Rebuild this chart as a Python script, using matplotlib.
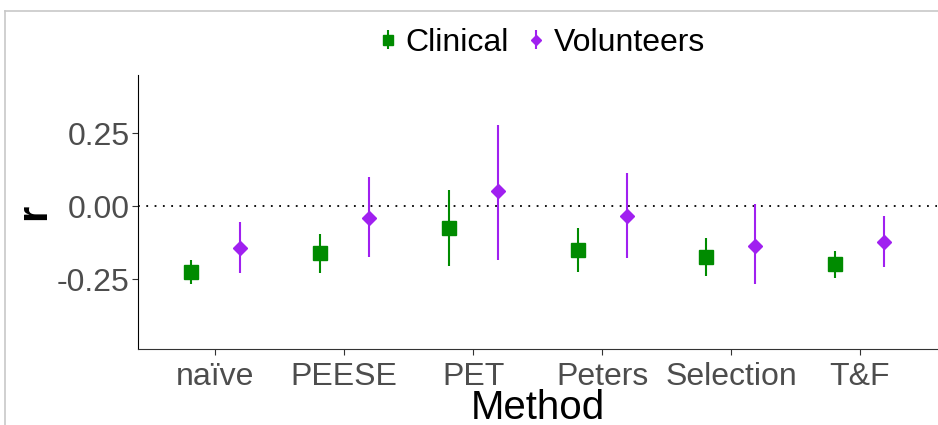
import matplotlib.pyplot as plt
import numpy as np
from matplotlib.lines import Line2D
from matplotlib.legend_handler import HandlerErrorbar

plt.rcParams['font.family'] = ['Liberation Sans', 'DejaVu Sans']

methods = ["naïve", "PEESE", "PET", "Peters", "Selection", "T&F"]

# Clinical: estimate, lower, upper
clin_est = [-0.225, -0.162, -0.075, -0.152, -0.175, -0.200]
clin_lo = [-0.267, -0.228, -0.205, -0.226, -0.239, -0.246]
clin_hi = [-0.183, -0.097, 0.057, -0.075, -0.108, -0.154]

# Volunteers
vol_est = [-0.145, -0.040, 0.051, -0.035, -0.135, -0.123]
vol_lo = [-0.228, -0.175, -0.183, -0.178, -0.267, -0.210]
vol_hi = [-0.055, 0.100, 0.280, 0.114, 0.006, -0.033]

green = "#008B00"
purple = "#A020F0"

fig = plt.figure(figsize=(9.38, 4.25), dpi=100)
ax = fig.add_axes([0.1471, 0.1788, 0.852, 0.6447])

x = np.arange(1, len(methods) + 1)
dodge = 0.19

ce = np.array(clin_est)
ve = np.array(vol_est)
h1 = ax.errorbar(x - dodge, ce, yerr=[ce - np.array(clin_lo), np.array(clin_hi) - ce],
                 fmt="s", color=green, ms=10, elinewidth=1.5, capsize=0, label="Clinical")
h2 = ax.errorbar(x + dodge, ve, yerr=[ve - np.array(vol_lo), np.array(vol_hi) - ve],
                 fmt="D", color=purple, ms=7, elinewidth=1.5, capsize=0, label="Volunteers")

ax.axhline(0, color="black", linestyle=(0, (1, 3.6)), linewidth=1.3, zorder=0)

ax.set_xlim(0.4, 6.6)
ax.set_ylim(-0.49, 0.45)
ax.set_xticks(x)
ax.set_xticklabels(methods)
ax.set_yticks([-0.25, 0, 0.25])
ax.set_yticklabels(["-0.25", "0.00", "0.25"])
ax.tick_params(labelsize=23, labelcolor="#4D4D4D", color="#333333", length=4, width=0.8, pad=2)
ax.tick_params(axis="x", pad=5)
ax.spines["top"].set_visible(False)
ax.spines["right"].set_visible(False)
ax.spines["left"].set_color("black")
ax.spines["bottom"].set_color("#333333")

ax.set_xlabel("Method", fontsize=29, labelpad=-2)
ax.set_ylabel("r", fontsize=30, fontweight="bold", labelpad=2)

fig.legend(handles=[h1, h2], loc="center", bbox_to_anchor=(0.578, 0.899), ncol=2,
           frameon=False, fontsize=23, markerscale=0.75, handlelength=0.5,
           handletextpad=0.3, columnspacing=0.6,
           handler_map={type(h1): HandlerErrorbar(yerr_size=0.3)})

# light border from the screenshot
fig.add_artist(Line2D([5 / 938, 1], [1 - 11 / 425, 1 - 11 / 425], color="#C8C8C8", lw=1.2))
fig.add_artist(Line2D([5 / 938, 5 / 938], [0, 1 - 11 / 425], color="#C8C8C8", lw=1.2))

fig.savefig("out.png", dpi=100)
